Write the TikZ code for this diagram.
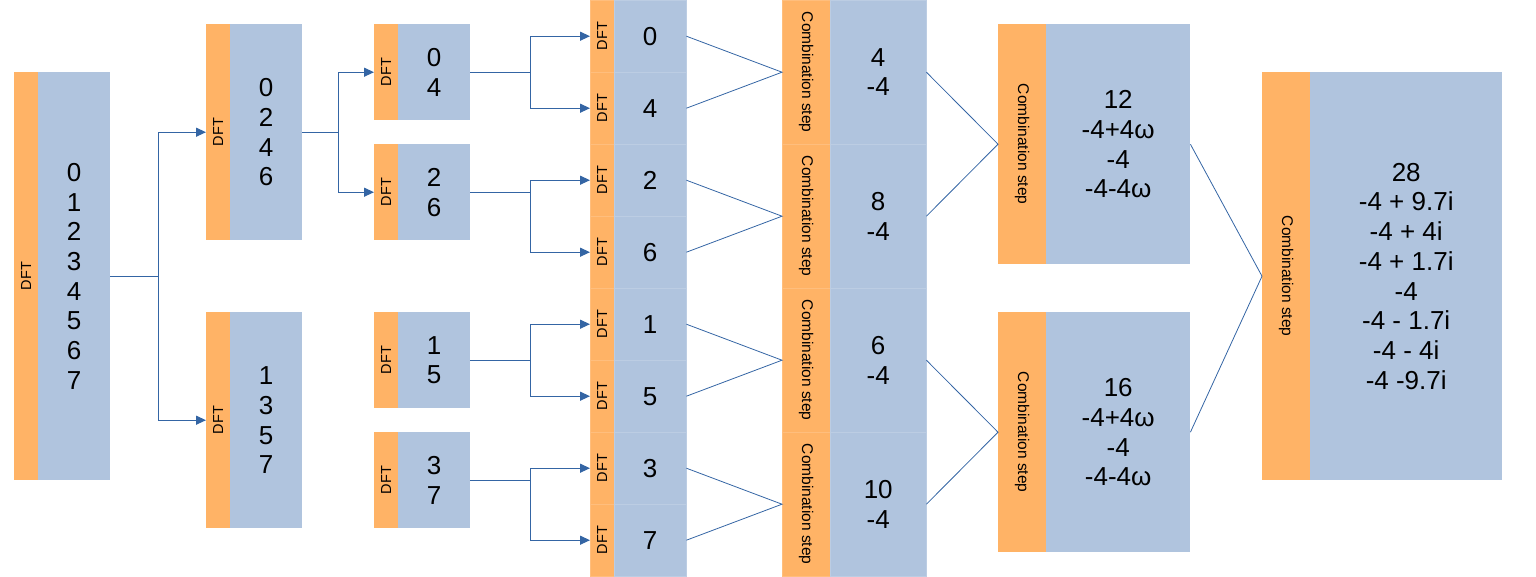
\documentclass[tikz,border=0pt]{standalone}
\usepackage{fontspec}
\setmainfont{Liberation Sans}
\usetikzlibrary{arrows.meta}
\definecolor{orng}{RGB}{255,179,102}
\definecolor{blu}{RGB}{176,196,222}
\definecolor{lnk}{RGB}{52,101,164}
\tikzset{
  ostrip/.style={fill=orng, draw=none, inner sep=0pt, anchor=north west},
  bbox/.style={fill=blu, draw=none, inner sep=0pt, anchor=north west, align=center,
    font=\fontsize{26pt}{29.7pt}\selectfont},
  cellb/.style={draw=blu!85!white, line width=0.4pt},
  cello/.style={draw=orng!85!white, line width=0.4pt},
  dftlab/.style={label={[rotate=90, font=\fontsize{14.5pt}{16pt}\selectfont]center:DFT}},
  comblab/.style={label={[rotate=-90, font=\fontsize{15.5pt}{17pt}\selectfont]center:Combination step}},
  arr/.style={draw=lnk, line width=1.2pt, -{Triangle[length=10pt,width=9pt]}},
  ln/.style={draw=lnk, line width=0.8pt}
}
\begin{document}
\begin{tikzpicture}[x=1pt,y=-1pt]
\useasboundingbox (0,0) rectangle (1536,576);
% level 0
\node[ostrip, dftlab, minimum width=24pt, minimum height=408pt] (Ao) at (14,72) {};
\node[bbox, minimum width=72pt, minimum height=408pt] (Ab) at (38,72) {0\\1\\2\\3\\4\\5\\6\\7};
% level 1
\node[ostrip, dftlab, minimum width=24pt, minimum height=216pt] (B1o) at (206,24) {};
\node[bbox, minimum width=72pt, minimum height=216pt] (B1b) at (230,24) {0\\2\\4\\6};
\node[ostrip, dftlab, minimum width=24pt, minimum height=216pt] (B2o) at (206,312) {};
\node[bbox, minimum width=72pt, minimum height=216pt] (B2b) at (230,312) {1\\3\\5\\7};
% level 2
\node[ostrip, dftlab, minimum width=24pt, minimum height=96pt] (C1o) at (374,24) {};
\node[bbox, minimum width=72pt, minimum height=96pt] (C1b) at (398,24) {0\\4};
\node[ostrip, dftlab, minimum width=24pt, minimum height=96pt] (C2o) at (374,144) {};
\node[bbox, minimum width=72pt, minimum height=96pt] (C2b) at (398,144) {2\\6};
\node[ostrip, dftlab, minimum width=24pt, minimum height=96pt] (C3o) at (374,312) {};
\node[bbox, minimum width=72pt, minimum height=96pt] (C3b) at (398,312) {1\\5};
\node[ostrip, dftlab, minimum width=24pt, minimum height=96pt] (C4o) at (374,432) {};
\node[bbox, minimum width=72pt, minimum height=96pt] (C4b) at (398,432) {3\\7};
% level 3
\foreach \n [count=\i from 0] in {0,4,2,6,1,5,3,7} {
  \node[ostrip, cello, dftlab, minimum width=24pt, minimum height=72pt] (Do\i) at (590,72*\i) {};
  \node[bbox, cellb, minimum width=72pt, minimum height=72pt] (Db\i) at (614,72*\i) {\n};
}
% combination level 1
\node[ostrip, cello, comblab, minimum width=48pt, minimum height=144pt] (Eo0) at (782,0) {};
\node[bbox, cellb, minimum width=96pt, minimum height=144pt] (Eb0) at (830,0) {4\\-4};
\node[ostrip, cello, comblab, minimum width=48pt, minimum height=144pt] (Eo1) at (782,144) {};
\node[bbox, cellb, minimum width=96pt, minimum height=144pt] (Eb1) at (830,144) {8\\-4};
\node[ostrip, cello, comblab, minimum width=48pt, minimum height=144pt] (Eo2) at (782,288) {};
\node[bbox, cellb, minimum width=96pt, minimum height=144pt] (Eb2) at (830,288) {6\\-4};
\node[ostrip, cello, comblab, minimum width=48pt, minimum height=144pt] (Eo3) at (782,432) {};
\node[bbox, cellb, minimum width=96pt, minimum height=144pt] (Eb3) at (830,432) {10\\-4};
% combination level 2
\node[ostrip, comblab, minimum width=48pt, minimum height=240pt] (F1o) at (998,24) {};
\node[bbox, minimum width=144pt, minimum height=240pt] (F1b) at (1046,24) {12\\-4+4ω\\-4\\-4-4ω};
\node[ostrip, comblab, minimum width=48pt, minimum height=240pt] (F2o) at (998,312) {};
\node[bbox, minimum width=144pt, minimum height=240pt] (F2b) at (1046,312) {16\\-4+4ω\\-4\\-4-4ω};
% combination level 3
\node[ostrip, comblab, minimum width=48pt, minimum height=408pt] (Go) at (1262,72) {};
\node[bbox, minimum width=192pt, minimum height=408pt] (Gb) at (1310,72) {28\\-4 + 9.7i\\-4 + 4i\\-4 + 1.7i\\-4\\-4 - 1.7i\\-4 - 4i\\-4 -9.7i};
% splitting arrows
\draw[arr] (Ab.east) -- ++(48,0) |- (B1o.west);
\draw[arr] (Ab.east) -- ++(48,0) |- (B2o.west);
\draw[arr] (B1b.east) -- ++(36,0) |- (C1o.west);
\draw[arr] (B1b.east) -- ++(36,0) |- (C2o.west);
\draw[arr] (C1b.east) -- ++(60,0) |- (Do0.west);
\draw[arr] (C1b.east) -- ++(60,0) |- (Do1.west);
\draw[arr] (C2b.east) -- ++(60,0) |- (Do2.west);
\draw[arr] (C2b.east) -- ++(60,0) |- (Do3.west);
\draw[arr] (C3b.east) -- ++(60,0) |- (Do4.west);
\draw[arr] (C3b.east) -- ++(60,0) |- (Do5.west);
\draw[arr] (C4b.east) -- ++(60,0) |- (Do6.west);
\draw[arr] (C4b.east) -- ++(60,0) |- (Do7.west);
% combining lines
\draw[ln] (Db0.east) -- (Eo0.west) -- (Db1.east);
\draw[ln] (Db2.east) -- (Eo1.west) -- (Db3.east);
\draw[ln] (Db4.east) -- (Eo2.west) -- (Db5.east);
\draw[ln] (Db6.east) -- (Eo3.west) -- (Db7.east);
\draw[ln] (Eb0.east) -- (F1o.west) -- (Eb1.east);
\draw[ln] (Eb2.east) -- (F2o.west) -- (Eb3.east);
\draw[ln] (F1b.east) -- (Go.west) -- (F2b.east);
\end{tikzpicture}
\end{document}
